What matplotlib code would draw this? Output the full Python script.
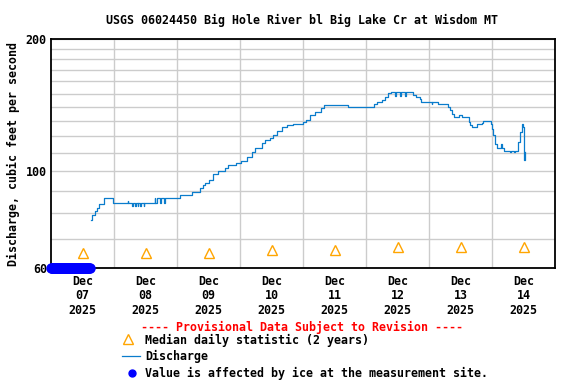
import numpy as np
import matplotlib
matplotlib.use("Agg")
import matplotlib.pyplot as plt
from matplotlib.ticker import FixedLocator, NullFormatter

# hours since 2025-12-07 00:00
q_hours = [15.1, 15.6, 16.8, 17.4, 18.3, 20.3, 23.5, 29.2, 29.5, 31.0, 31.3, 32.0, 32.3,
           33.0, 33.3, 34.0, 34.3, 35.3, 35.6, 39.5, 39.8, 40.3, 41.5, 41.8, 43.0, 43.3,
           49.1, 53.6, 56.8, 58.0, 58.7, 60.3, 61.6, 63.6, 66.3, 67.4, 70.5, 72.3, 74.5,
           76.4, 77.7, 80.3, 81.5, 83.4, 84.7, 86.0, 87.9, 90.0, 92.2, 95.9, 97.1, 98.7,
           100.6, 102.7, 104.0, 113.3, 122.9, 124.1, 126.0, 127.3, 128.5, 129.4, 131.0,
           131.25, 133.0, 133.25, 134.9, 135.15, 138.0, 139.1, 140.6, 141.0, 145.0, 145.25,
           147.6, 151.4, 152.0, 152.8, 153.5, 155.3, 156.5, 157.0, 159.2, 159.8, 160.2,
           162.4, 164.0, 164.4, 167.5, 168.0, 168.5, 169.1, 169.8, 171.4, 171.8, 172.4,
           175.0, 175.25, 176.5, 176.75, 178.0, 178.5, 179.4, 179.9, 180.2, 180.3, 180.6]
q_vals = [77.2, 79.3, 80.8, 82.2, 84.0, 86.6, 84.3, 85.5, 84.3, 83.1, 84.3, 83.1, 84.3,
          83.1, 84.3, 83.1, 84.3, 83.1, 84.3, 86.6, 84.3, 86.6, 84.3, 86.6, 84.3, 86.6,
          88.1, 89.6, 91.2, 92.8, 93.7, 95.3, 98.2, 100.0, 101.4, 102.9, 104.4, 105.5, 107.8,
          110.6, 112.6, 115.8, 117.3, 118.8, 120.9, 123.1, 125.8, 127.2, 127.9, 129.4, 130.9, 134.1,
          136.1, 139.4, 141.4, 140.1, 142.1, 143.6, 145.1, 147.7, 150.4, 151.6, 148.4,
          151.6, 148.4, 151.6, 148.4, 151.6, 149.0, 147.2, 145.9, 143.6, 142.1, 143.6,
          142.1, 140.1, 137.7, 134.8, 132.5, 134.3, 133.0, 132.5, 129.3, 127.2, 125.8,
          127.9, 128.9, 130.0, 127.6, 124.3, 120.9, 115.2, 112.6, 115.2, 112.6, 111.0,
          110.4, 111.0, 110.4, 111.0, 116.4, 122.7, 127.6, 126.0, 111.6, 105.9, 110.6]

median_hours = [12, 36, 60, 84, 108, 132, 156, 180]
median_vals = [64.9, 64.9, 64.9, 65.9, 65.9, 67.0, 67.0, 67.0]

ice_hours = np.arange(0, 15, 0.25)
ice_vals = [60] * len(ice_hours)

day_labels = ["Dec\n07\n2025", "Dec\n08\n2025", "Dec\n09\n2025", "Dec\n10\n2025",
              "Dec\n11\n2025", "Dec\n12\n2025", "Dec\n13\n2025", "Dec\n14\n2025"]

font = "DejaVu Sans Mono"
fs = 8.4
plt.rcParams["font.family"] = font
plt.rcParams["font.weight"] = "bold"

fig = plt.figure(figsize=(5.76, 3.84), dpi=100)
ax = fig.add_axes([51 / 576, 1 - 268 / 384, 504 / 576, 229 / 384])

ax.set_yscale("log")
ax.set_ylim(60, 200)
ax.set_xlim(0, 192)

ax.yaxis.set_major_locator(FixedLocator([60, 100, 200]))
ax.yaxis.set_minor_locator(FixedLocator([70, 80, 90, 110, 120, 130, 140, 150, 160, 170, 180, 190]))
ax.yaxis.set_minor_formatter(NullFormatter())
ax.set_yticklabels(["60", "100", "200"], fontsize=fs, fontweight="bold")

ax.xaxis.set_major_locator(FixedLocator(median_hours))
ax.xaxis.set_minor_locator(FixedLocator(list(range(24, 192, 24))))
ax.set_xticklabels(day_labels, fontsize=fs, fontweight="bold", linespacing=1.15)

ax.tick_params(which="both", length=0)
ax.tick_params(axis="x", pad=5)
ax.tick_params(axis="y", pad=3)
ax.grid(True, which="both", color="#cccccc", linewidth=1)
ax.grid(False, which="major", axis="x")
ax.set_axisbelow(True)
for s in ax.spines.values():
    s.set_linewidth(1.3)

ax.plot(q_hours, q_vals, drawstyle="steps-post", color="#0a7ccc", linewidth=0.9)
ax.plot(median_hours, median_vals, linestyle="none", marker="^", markersize=7,
        markerfacecolor="none", markeredgecolor="#ffa500", markeredgewidth=1)
ax.plot(ice_hours, ice_vals, linestyle="none", marker="o", markersize=6.5,
        color="#0000ff", clip_on=False, zorder=5)

ax.set_ylabel("Discharge, cubic feet per second", fontsize=fs, fontweight="bold", labelpad=4)
fig.text(302 / 576, 1 - 20 / 384, "USGS 06024450 Big Hole River bl Big Lake Cr at Wisdom MT",
         ha="center", va="center", fontsize=fs, fontweight="bold")

# legend block
fig.text(302 / 576, 1 - 327 / 384, "---- Provisional Data Subject to Revision ----",
         ha="center", va="center", fontsize=fs, fontweight="bold", color="red")
fig.text(145 / 576, 1 - 340 / 384, "Median daily statistic (2 years)",
         ha="left", va="center", fontsize=fs, fontweight="bold")
fig.text(145 / 576, 1 - 356 / 384, "Discharge",
         ha="left", va="center", fontsize=fs, fontweight="bold")
fig.text(145 / 576, 1 - 373 / 384, "Value is affected by ice at the measurement site.",
         ha="left", va="center", fontsize=fs, fontweight="bold")
fig.lines.append(plt.Line2D([128 / 576], [1 - 339 / 384], transform=fig.transFigure,
                            marker="^", markersize=7, markerfacecolor="none",
                            markeredgecolor="#ffa500", linestyle="none"))
fig.lines.append(plt.Line2D([122 / 576, 140 / 576], [1 - 356 / 384, 1 - 356 / 384],
                            transform=fig.transFigure, color="#0a7ccc", linewidth=0.9))
fig.lines.append(plt.Line2D([132 / 576], [1 - 373 / 384], transform=fig.transFigure,
                            marker="o", markersize=5, color="#0000ff", linestyle="none"))

fig.savefig("out.png", dpi=100)
